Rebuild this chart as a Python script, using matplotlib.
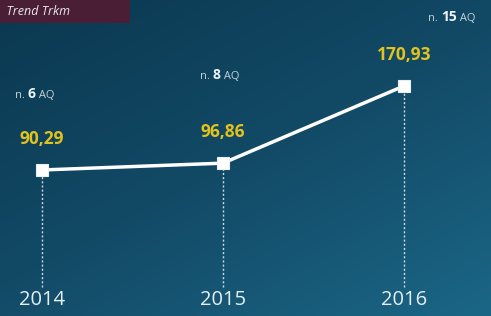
import matplotlib
matplotlib.use("Agg")
import matplotlib.pyplot as plt
import matplotlib.transforms as mtransforms
from matplotlib.colors import LinearSegmentedColormap
import numpy as np

years = ["2014", "2015", "2016"]
values = [90.29, 96.86, 170.93]
value_labels = ["90,29", "96,86", "170,93"]
aq_counts = ["6", "8", "15"]
title = "Trend Trkm"

fig = plt.figure(figsize=(4.91, 3.16), dpi=100)
ax = fig.add_axes([0, 0, 1, 1])
ax.set_axis_off()

# background gradient (dark top-left -> lighter bottom-right)
cmap = LinearSegmentedColormap.from_list("bg", ["#0b3850", "#124a66", "#1b6686"])
yy, xx = np.mgrid[0:1:200j, 0:1:200j]
grad = 0.55 * yy + 0.45 * xx
ax.imshow(grad, cmap=cmap, extent=[0, 1, 0, 1], transform=ax.transAxes,
          aspect="auto", zorder=0, origin="upper", interpolation="bicubic")

x = np.arange(len(years))
ax.set_xlim(-0.232, 2.481)
ax.set_ylim(-49.9, 253.5)

trans = mtransforms.blended_transform_factory(ax.transData, ax.transAxes)
for xi, v in zip(x, values):
    y_ax = ax.transAxes.inverted().transform(ax.transData.transform((xi, v)))[1]
    ax.plot([xi, xi], [0.092, y_ax], transform=trans, color="#c8dbe6",
            lw=1.0, ls=(0, (1.5, 1.5)), zorder=2)

ax.plot(x, values, color="white", lw=2.5, zorder=3, solid_capstyle="round")
ax.plot(x, values, ls="none", marker="s", ms=9, mfc="white", mec="#e8eef2",
        mew=0.8, zorder=4)

for xi, v, lab in zip(x, values, value_labels):
    ax.text(xi, v + 30, lab, ha="center", va="center", color="#e2c21c",
            fontsize=12.5, fontweight="bold", family="Open Sans", zorder=5)

for xi, yr in zip(x, years):
    ax.text(xi, 0.05, yr, transform=trans, ha="center", va="center",
            color="#e6eef2", fontsize=14.5, family="Open Sans", zorder=5)

aq_pos = [(-0.149, 0.697), (0.873, 0.757), (2.133, 0.94)]
for (px, py), n in zip(aq_pos, aq_counts):
    t = ax.text(px, py, "n. ", transform=trans, ha="left", va="center",
                color="#c5d3db", fontsize=8, family="Open Sans", zorder=5)
    t2 = ax.annotate(n, xy=(1, 0), xycoords=t, va="bottom", ha="left",
                     color="#eef3f6", fontsize=10, fontweight="bold",
                     family="Open Sans", zorder=5)
    ax.annotate(" AQ", xy=(1, 0), xycoords=t2, va="bottom", ha="left",
                color="#c5d3db", fontsize=8, family="Open Sans", zorder=5)

# title box
ax.text(0.0, 0.965, "  " + title + "                 ", transform=ax.transAxes,
        ha="left", va="center", color="#e8e8ec", fontsize=9, style="italic",
        family="Open Sans", zorder=6,
        bbox=dict(boxstyle="square,pad=0.4", fc="#4a1f36", ec="none"))

fig.savefig("out.png", dpi=100)
